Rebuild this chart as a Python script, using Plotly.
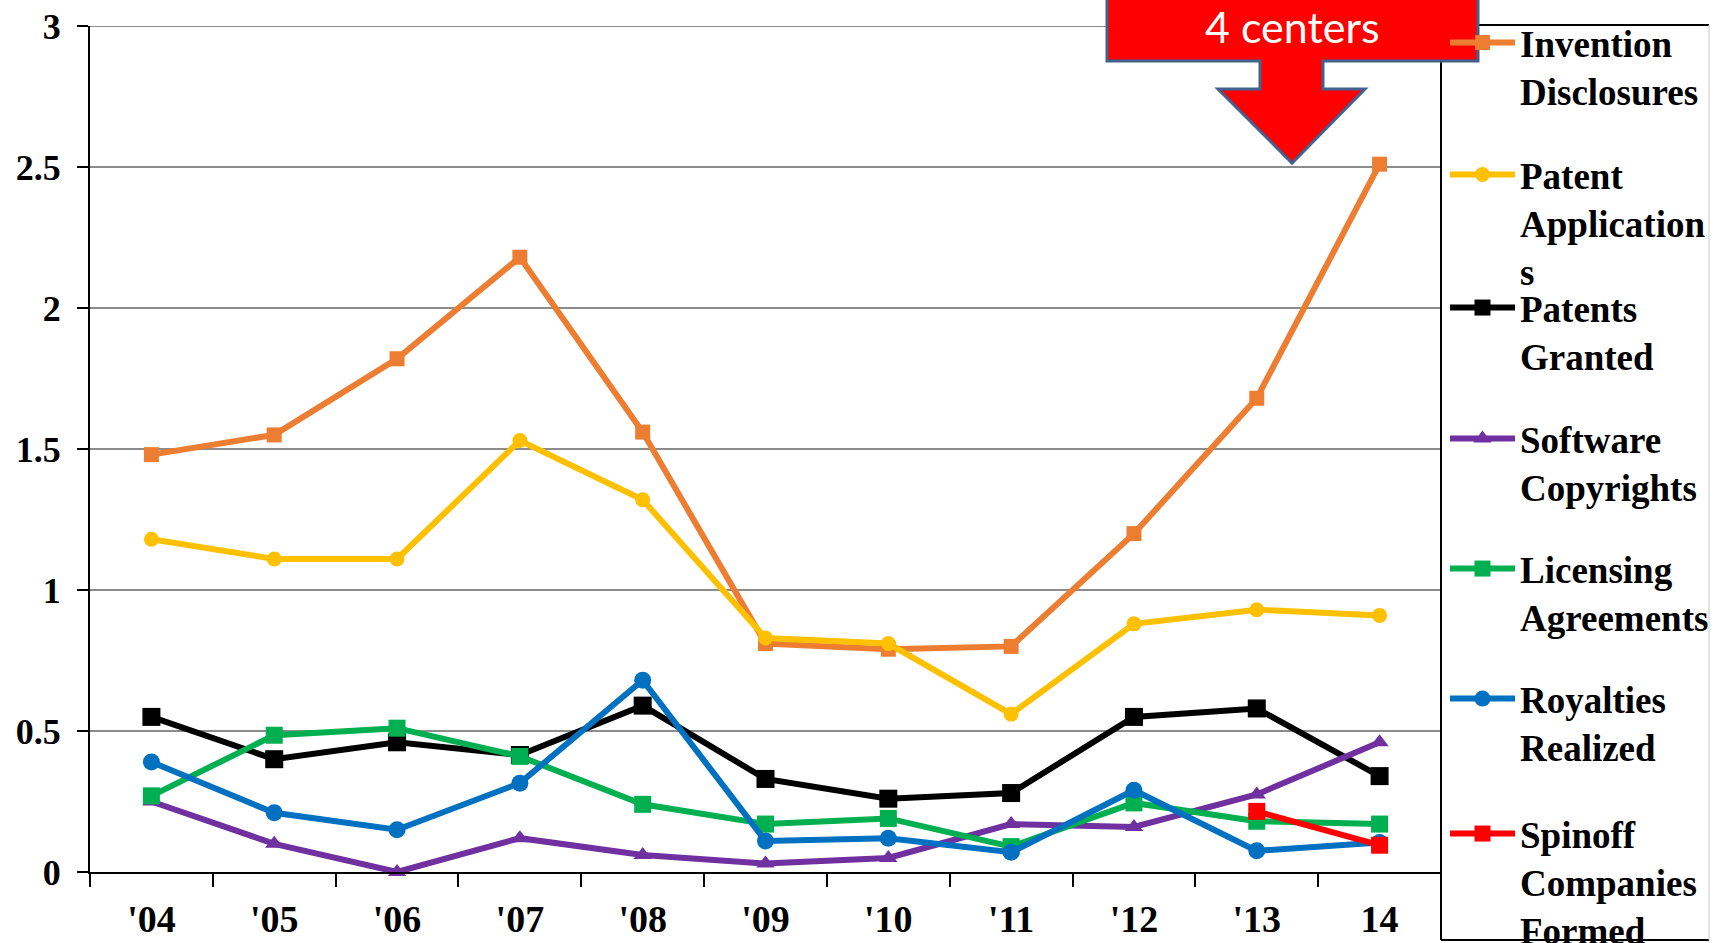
import plotly.graph_objects as go

years = ["'04", "'05", "'06", "'07", "'08", "'09", "'10", "'11", "'12", "'13", "14"]
invention = [1.48, 1.55, 1.82, 2.18, 1.56, 0.81, 0.79, 0.80, 1.20, 1.68, 2.51]
patent_apps = [1.18, 1.11, 1.11, 1.53, 1.32, 0.83, 0.81, 0.56, 0.88, 0.93, 0.91]
patents_granted = [0.55, 0.40, 0.46, 0.415, 0.59, 0.33, 0.26, 0.28, 0.55, 0.58, 0.34]
software = [0.25, 0.10, 0.0, 0.12, 0.06, 0.03, 0.05, 0.17, 0.16, 0.275, 0.46]
licensing = [0.27, 0.485, 0.51, 0.41, 0.24, 0.17, 0.19, 0.09, 0.245, 0.18, 0.17]
royalties = [0.39, 0.21, 0.15, 0.315, 0.68, 0.11, 0.12, 0.07, 0.29, 0.075, 0.105]
spinoff = [None, None, None, None, None, None, None, None, None, 0.215, 0.095]

y_ticks = [0, 0.5, 1, 1.5, 2, 2.5, 3]
y_ticktext = ["0", "0.5", "1", "1.5", "2", "2.5", "3"]

series = [
    ("Invention<br>Disclosures", invention, "#ED7D31", "square", 15),
    ("Patent<br>Application<br>s", patent_apps, "#FFC000", "circle", 15),
    ("Patents<br>Granted", patents_granted, "#000000", "square", 18),
    ("Software<br>Copyrights", software, "#7030A0", "triangle-up", 16),
    ("Licensing<br>Agreements", licensing, "#00B050", "square", 17),
    ("Royalties<br>Realized", royalties, "#0070C0", "circle", 17),
    ("Spinoff<br>Companies<br>Formed", spinoff, "#FF0000", "square", 17),
]
# first-line centre (page px) of each legend entry
legend_centres = [40, 172, 305, 436, 566, 696, 831]

W, H = 1716, 943
# plot area in page pixels
L, R, T, B = 90, 1441, 26, 872


def px(X):
    return (X - L) / (R - L)


def py(Y):
    return (B - Y) / (B - T)


SERIF = "Liberation Serif"
fig = go.Figure()
legend_layouts = {}
for i, (name, vals, col, sym, ms) in enumerate(series):
    lid = "legend" if i == 0 else f"legend{i + 1}"
    fig.add_trace(go.Scatter(
        x=years, y=vals, name=name, mode="lines+markers",
        line=dict(color=col, width=6),
        marker=dict(symbol=sym, size=ms, color=col),
        cliponaxis=False, legend=lid, connectgaps=False,
    ))
    legend_layouts[lid] = dict(
        x=px(1445), xanchor="left", xref="paper",
        y=py(legend_centres[i] - 28), yanchor="top", yref="paper",
        bgcolor="rgba(0,0,0,0)", borderwidth=0,
        font=dict(family=SERIF, size=37, color="black", weight="bold"),
        itemwidth=65, valign="top", itemclick=False,
    )

shapes = []
# top gridline (y = 3)
shapes.append(dict(type="line", xref="paper", yref="y", x0=0, x1=1, y0=3, y1=3,
                   line=dict(color="#8c8c8c", width=2), layer="below"))
# legend frame
shapes.append(dict(type="line", xref="paper", yref="paper", x0=px(1441), x1=px(1709), y0=py(25), y1=py(25),
                   line=dict(color="black", width=2)))
shapes.append(dict(type="line", xref="paper", yref="paper", x0=px(1441), x1=px(1441), y0=py(25), y1=py(940),
                   line=dict(color="black", width=2)))
shapes.append(dict(type="line", xref="paper", yref="paper", x0=px(1441), x1=px(1709), y0=py(940), y1=py(940),
                   line=dict(color="black", width=2)))
shapes.append(dict(type="line", xref="paper", yref="paper", x0=px(1709), x1=px(1709), y0=py(25), y1=py(940),
                   line=dict(color="#c8c8c8", width=1)))

# callout arrow
pts = [(1107, -10), (1478, -10), (1478, 61), (1323, 61), (1323, 89), (1365, 89), (1292, 163),
       (1218, 89), (1260, 89), (1260, 61), (1107, 61)]
path = "M " + " L ".join(f"{px(x):.5f},{py(y):.5f}" for x, y in pts) + " Z"
shapes.append(dict(type="path", xref="paper", yref="paper", path=path, fillcolor="#FF0000",
                   line=dict(color="#41628F", width=3), layer="above"))

annotations = [dict(text="4 centers", xref="paper", yref="paper", x=px(1292), y=py(27),
                    xanchor="center", yanchor="middle", showarrow=False,
                    font=dict(family="Lato", size=43, color="white"))]

fig.update_layout(
    width=W, height=H,
    margin=dict(l=L, r=W - R, t=T, b=H - B, autoexpand=False),
    paper_bgcolor="white", plot_bgcolor="white",
    shapes=shapes, annotations=annotations,
    showlegend=True,
    **legend_layouts,
)
fig.update_xaxes(
    type="category", range=[-0.5, 10.5], showgrid=False, zeroline=False,
    showline=True, linecolor="black", linewidth=2,
    ticks="outside", tickson="boundaries", ticklen=13, tickwidth=2, tickcolor="black",
    tickfont=dict(family=SERIF, size=38, color="black", weight="bold"),
    ticklabelstandoff=12, ticklabeloverflow="allow",
)
fig.update_yaxes(
    range=[0, 3], tickvals=y_ticks, ticktext=y_ticktext,
    showgrid=True, gridcolor="#8c8c8c", gridwidth=2, zeroline=False,
    showline=True, linecolor="black", linewidth=2,
    ticks="outside", ticklen=11, tickwidth=2, tickcolor="black",
    tickfont=dict(family=SERIF, size=36, color="black", weight="bold"),
    ticklabelstandoff=9, ticklabeloverflow="allow",
)

fig.write_html("out.html", config={"displayModeBar": False},
               post_script="document.body.style.margin='0';")
